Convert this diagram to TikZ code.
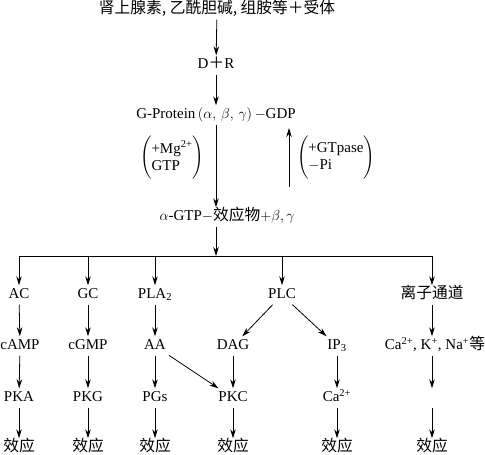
\documentclass[tikz,border=0pt]{standalone}
\usepackage{amsmath}
\usepackage{fontspec}
\setmainfont{Liberation Serif}
\newfontfamily\cjk[Scale=1.05]{Noto Sans CJK SC}
\usetikzlibrary{arrows.meta}

\begin{document}
\begin{tikzpicture}[x=1pt,y=-1pt,>={Stealth[length=9pt,width=5.5pt]},
    every node/.style={font=\fontsize{15}{17}\selectfont},
    item/.style={text height=10pt,text depth=3pt,inner sep=3pt},
    arr/.style={->,line width=0.8pt}]
\useasboundingbox (0,0) rectangle (485,455);
% top chain
\node[item] (top) at (217,10) {\cjk 肾上腺素, 乙酰胆碱, 组胺等＋受体};
\node[item] (dr) at (216,65) {D{\cjk ＋}R};
\node[item] (gp) at (216,115) {G-Protein$\,(\alpha,\,\beta,\,\gamma)\,$$-$GDP};
\node[item] (ag) at (227,217) {$\alpha$-GTP$-${\cjk 效应物}$+\beta,\gamma$};
\node (mg) at (172,158) {$\Biggl(\begin{tabular}{@{}l@{}}+Mg\textsuperscript{2+}\\GTP\end{tabular}\Biggr)$};
\node (gt) at (336,158) {$\Biggl(\begin{tabular}{@{}l@{}}+GTpase\\$-$Pi\end{tabular}\Biggr)$};
\coordinate (u1) at (289,187);
\coordinate (u2) at (289,128);
\coordinate (bar) at (216,256);
\draw[arr] (top) -- (dr);
\draw[arr] (dr) -- (gp);
\draw[arr] (gp.south) -- (gp.south |- ag.north);
\draw[arr] (u1) -- (u2);
% first row
\node[item] (ac) at (19,295) {AC};
\node[item] (gc) at (88,295) {GC};
\node[item] (pla) at (155,295) {PLA\textsubscript{2}};
\node[item] (plc) at (282,295) {PLC};
\node[item] (ion) at (432,295) {\cjk 离子通道};
\draw[arr] (ag.south -| bar) -- (bar);
\draw[line width=0.8pt] (ac |- bar) -- (ion |- bar);
\foreach \n in {ac,gc,pla,plc,ion}
  \draw[arr] (\n |- bar) -- (\n);
% second row
\node[item] (camp) at (20,346) {cAMP};
\node[item] (cgmp) at (88,346) {cGMP};
\node[item] (aa) at (155,346) {AA};
\node[item] (dag) at (233,346) {DAG};
\node[item] (ip3) at (337,346) {IP\textsubscript{3}};
\node[item] (ions) at (435,346) {Ca\textsuperscript{2+}, K\textsuperscript{+}, Na\textsuperscript{+}{\cjk 等}};
% third row
\node[item] (pka) at (19,398) {PKA};
\node[item] (pkg) at (88,398) {PKG};
\node[item] (pgs) at (155,398) {PGs};
\node[item] (pkc) at (233,398) {PKC};
\node[item] (ca) at (337,398) {Ca\textsuperscript{2+}};
\node[item] (gap) at (432,398) {};
% effects
\foreach \n/\x in {1/19,2/88,3/155,4/233,5/337,6/432}
  \node[item] (e\n) at (\x,448) {\cjk 效应};
\draw[arr] (ac) -- (camp);
\draw[arr] (gc) -- (cgmp);
\draw[arr] (pla) -- (aa);
\draw[arr] (plc) -- (dag);
\draw[arr] (plc) -- (ip3);
\draw[arr] (ion) -- (ion |- ions.north);
\draw[arr] (camp) -- (pka);
\draw[arr] (cgmp) -- (pkg);
\draw[arr] (aa) -- (pgs);
\draw[arr] (aa) -- (pkc);
\draw[arr] (dag) -- (pkc);
\draw[arr] (ip3) -- (ca);
\draw[arr] (ion |- ions.south) -- (gap);
\draw[arr] (pka) -- (e1);
\draw[arr] (pkg) -- (e2);
\draw[arr] (pgs) -- (e3);
\draw[arr] (pkc) -- (e4);
\draw[arr] (ca) -- (e5);
\draw[arr] (gap) -- (e6);
\end{tikzpicture}
\end{document}
